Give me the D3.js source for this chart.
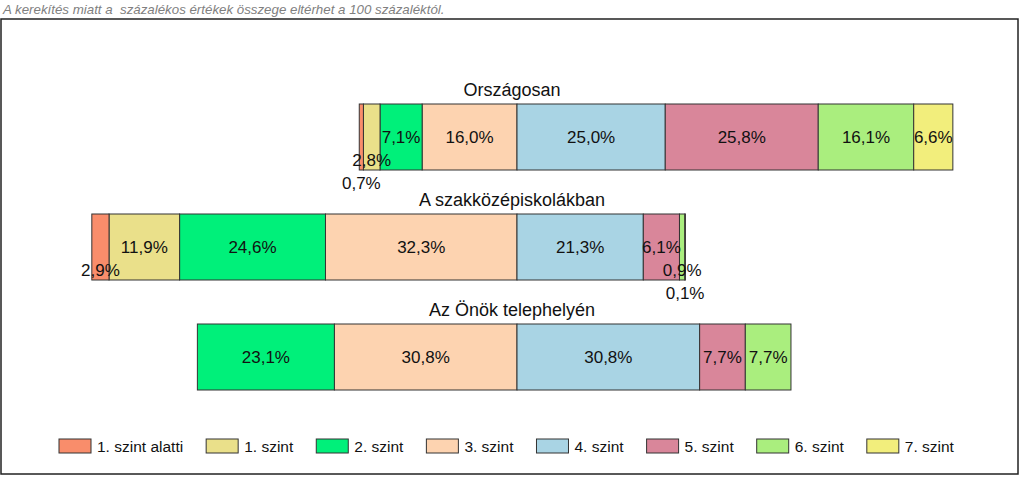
<!DOCTYPE html>
<html>
<head>
<meta charset="utf-8">
<script src="https://cdn.jsdelivr.net/npm/d3@7"></script>
<style>
  html, body { margin: 0; padding: 0; background: #fff; }
  svg { display: block; font-family: "Liberation Sans", Arial, sans-serif; }
</style>
</head>
<body>
<svg id="chart" width="1024" height="478"></svg>
<script>
// ---- data ----
const categories = ["Országosan", "A szakközépiskolákban", "Az Önök telephelyén"];
const levels = ["1. szint alatti", "1. szint", "2. szint", "3. szint", "4. szint", "5. szint", "6. szint", "7. szint"];
const belowLevel1 = [0.7, 2.9, 0];
const level1 = [2.8, 11.9, 0];
const level2 = [7.1, 24.6, 23.1];
const level3 = [16.0, 32.3, 30.8];
const level4 = [25.0, 21.3, 30.8];
const level5 = [25.8, 6.1, 7.7];
const level6 = [16.1, 0.9, 7.7];
const level7 = [6.6, 0.1, 0];
const noteText = "A kerekítés miatt a  százalékos értékek összege eltérhet a 100 százaléktól.";

const seriesValues = [belowLevel1, level1, level2, level3, level4, level5, level6, level7];
const colors = ["#F98D6B", "#EAE08A", "#00F07A", "#FDD3B0", "#A9D4E4", "#D9869A", "#AAEE7E", "#F2EE7C"];
const leftCount = 4; // levels below the centre line (1. szint alatti .. 3. szint)

const svg = d3.select("#chart");

// note
svg.append("text")
  .attr("x", 3).attr("y", 14)
  .attr("font-size", 13.3).attr("font-style", "italic")
  .attr("fill", "#808080")
  .attr("xml:space", "preserve")
  .text(noteText);

// frame
svg.append("rect")
  .attr("x", 1).attr("y", 19).attr("width", 1017).attr("height", 455)
  .attr("fill", "none").attr("stroke", "#222").attr("stroke-width", 1.5);

// scales
const x = d3.scaleLinear().domain([-70, 80]).range([517 - 70 * 5.93, 517 + 80 * 5.93]);
const y = d3.scaleBand().domain(categories).range([82, 412]).paddingInner(0.4).paddingOuter(0.2);

// build segments
const segments = [];
categories.forEach((cat, ci) => {
  let pos = 0, miss = 0;
  for (let li = leftCount - 1; li >= 0; li--) {
    const v = seriesValues[li][ci];
    const x1 = pos, x0 = pos - v;
    pos = x0;
    const w = x(x1) - x(x0);
    let off = 0;
    if (w < 30) { miss++; off = miss; }
    segments.push({ cat, li, v, x0, x1, off });
  }
  pos = 0; miss = 0;
  for (let li = leftCount; li < levels.length; li++) {
    const v = seriesValues[li][ci];
    const x0 = pos, x1 = pos + v;
    pos = x1;
    const w = x(x1) - x(x0);
    let off = 0;
    if (w < 30) { miss++; off = miss; }
    segments.push({ cat, li, v, x0, x1, off });
  }
});

const drawn = segments.filter(d => d.v > 0);

// bars
svg.append("g").selectAll("rect")
  .data(drawn)
  .join("rect")
  .attr("x", d => x(d.x0))
  .attr("y", d => y(d.cat))
  .attr("width", d => x(d.x1) - x(d.x0))
  .attr("height", y.bandwidth())
  .attr("fill", d => colors[d.li])
  .attr("stroke", "#333")
  .attr("stroke-width", 1);

// titles
svg.append("g").selectAll("text")
  .data(categories)
  .join("text")
  .attr("x", 512)
  .attr("y", d => y(d) - 8)
  .attr("text-anchor", "middle")
  .attr("font-size", 18)
  .attr("fill", "#111")
  .text(d => d);

// value labels
const fmt = v => v.toFixed(1).replace(".", ",") + "%";
svg.append("g").selectAll("text")
  .data(drawn)
  .join("text")
  .attr("x", d => (x(d.x0) + x(d.x1)) / 2)
  .attr("y", d => y(d.cat) + y.bandwidth() / 2 + d.off * 23)
  .attr("dy", "0.35em")
  .attr("text-anchor", "middle")
  .attr("font-size", 17)
  .attr("fill", "#111")
  .text(d => fmt(d.v));

// legend
const legend = svg.append("g");
let lx = 59;
levels.forEach((lab, i) => {
  const g = legend.append("g").attr("transform", `translate(${lx},439)`);
  g.append("rect").attr("width", 32).attr("height", 14)
    .attr("fill", colors[i]).attr("stroke", "#333").attr("stroke-width", 1);
  const t = g.append("text").attr("x", 38).attr("y", 12.5)
    .attr("font-size", 15.5).attr("fill", "#111").text(lab);
  const tw = t.node().getComputedTextLength();
  lx += 38 + tw + 23;
});
</script>
</body>
</html>
